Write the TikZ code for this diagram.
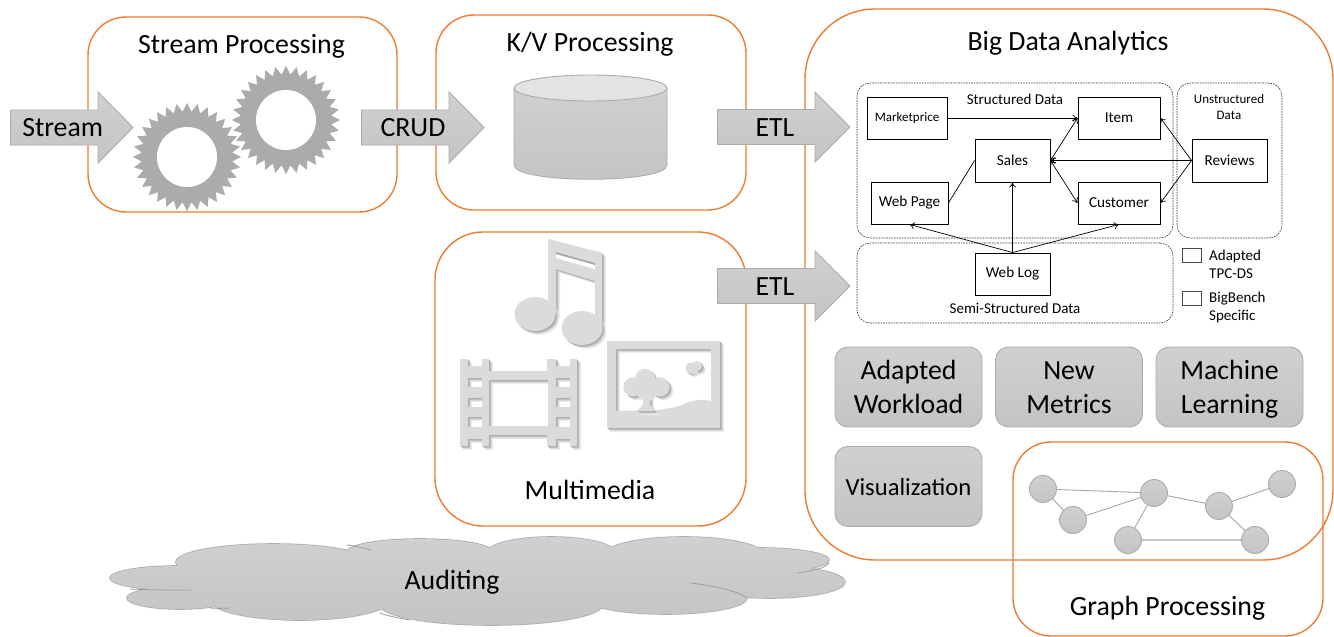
\documentclass[tikz,border=0pt]{standalone}
\usepackage{fontspec}
\setmainfont{Carlito}
\usetikzlibrary{arrows.meta}
\definecolor{orangeline}{HTML}{ED7D31}
\definecolor{gearcol}{HTML}{ABABAB}
\definecolor{iconcol}{HTML}{DBDBDB}
\definecolor{shapeline}{HTML}{ABABAB}
\definecolor{shadetop}{HTML}{D0D0D0}
\definecolor{shadebot}{HTML}{C4C4C4}
\newcommand{\bigfont}{\fontsize{27.8}{34}\selectfont}
\newcommand{\smallfont}{\fontsize{15.2}{18}\selectfont}
\newcommand{\notefont}{\fontsize{15}{18}\selectfont}
% shadowed icon: draws the given path with a soft offset shadow
\newcommand{\softshadow}[1]{%
  \begin{scope}[shift={(4,4)}]\fill[black!6,even odd rule] #1;\end{scope}%
  \begin{scope}[shift={(3,3)}]\fill[black!14,even odd rule] #1;\end{scope}%
  \begin{scope}[shift={(2,2)}]\fill[black!24,even odd rule] #1;\end{scope}%
  \begin{scope}[shift={(1,1)}]\fill[black!34,even odd rule] #1;\end{scope}%
  \fill[iconcol,even odd rule] #1;}
\newcommand{\gearshape}[2]{%
  \begin{scope}[shift={(#1,#2)}]
    \fill[gearcol] (0:54)
      \foreach \t in {1,...,32} { -- ({(\t-0.5)*11.25}:45.5) -- ({\t*11.25}:54) } -- cycle;
    \fill[white] (0,0) circle[radius=30];
  \end{scope}}
\tikzset{
  x=1pt,y=-1pt,
  procbox/.style={draw=orangeline,line width=1.4pt,minimum width=#1,inner sep=0pt},
  title/.style={font=\bigfont,inner sep=0pt,anchor=base,text=black},
  bigarrow/.style={draw=shapeline,line width=0.9pt,top color=shadetop,bottom color=shadebot},
  button/.style={draw=shapeline,line width=0.9pt,top color=shadetop,bottom color=shadebot,
    rounded corners=13pt,minimum width=147pt,minimum height=80pt,inner sep=0pt,align=center,
    text depth=0pt,font=\bigfont},
  datagroup/.style={draw=black!80,line width=0.6pt,dash pattern=on 1.6pt off 1pt,rounded corners=13pt,inner sep=0pt},
  entity/.style={draw=black,line width=0.9pt,inner sep=0pt,font=\smallfont},
  legendbox/.style={draw=black!70,line width=0.8pt,minimum width=19pt,minimum height=14pt,inner sep=0pt},
  note/.style={font=\notefont,inner sep=0pt,align=center},
  link/.style={draw=black,line width=0.7pt},
  arrowend/.style={link,-{To[length=5pt,width=7pt]}},
  twoway/.style={link,{To[length=5pt,width=7pt]}-{To[length=5pt,width=7pt]}},
  gnode/.style={circle,draw=shapeline,line width=0.9pt,top color=shadetop,bottom color=shadebot,minimum size=27pt,inner sep=0pt},
  gedge/.style={draw=black!35,line width=0.9pt},
  cloudline/.style={draw=black!38,line width=0.8pt},
}
\begin{document}
\begin{tikzpicture}
\useasboundingbox (0,0) rectangle (1334,637);
\fill[white] (0,0) rectangle (1334,637);

% processing boxes
\node[procbox=309pt,minimum height=195pt,rounded corners=38pt] (stream) at (242.5,114.5) {};
\node[procbox=310pt,minimum height=195pt,rounded corners=38pt] (kv) at (591,112.5) {};
\node[procbox=311pt,minimum height=294pt,rounded corners=48pt] (media) at (590.5,379) {};
\node[procbox=528pt,minimum height=551pt,rounded corners=70pt] (bigdata) at (1069,284.5) {};
\node[procbox=310pt,minimum height=194pt,rounded corners=38pt] (graph) at (1168,539) {};

% titles
\node[title] (streamtitle) at (241.5,53) {Stream Processing};
\node[title] (kvtitle) at (590,51) {K/V Processing};
\node[title] (bigtitle) at (1068,50) {Big Data Analytics};
\node[title] (mediatitle) at (590,499) {Multimedia};
\node[title] (graphtitle) at (1167.5,615) {Graph Processing};

% gears
\gearshape{286}{120}
\gearshape{187}{157}

% cylinder
\draw[bigarrow] (514,88) -- (514,165) .. controls (514,184) and (667,184) .. (667,165) -- (667,88) -- cycle;
\draw[draw=shapeline,line width=0.9pt,fill=black!11] (590.5,88) ellipse[x radius=76.5,y radius=13];

% block arrows
\draw[bigarrow] (10.5,110) -- (98,110) -- (98,92) -- (133,127.5) -- (98,163) -- (98,145) -- (10.5,145) -- cycle;
\draw[bigarrow] (361.5,110) -- (449,110) -- (449,92) -- (484,127.5) -- (449,163) -- (449,145) -- (361.5,145) -- cycle;
\draw[bigarrow] (717.5,109.5) -- (815,109.5) -- (815,92) -- (850,127) -- (815,162) -- (815,144.5) -- (717.5,144.5) -- cycle;
\draw[bigarrow] (717.5,268.5) -- (815,268.5) -- (815,251) -- (850,286) -- (815,321) -- (815,303.5) -- (717.5,303.5) -- cycle;
\node[title] (lstream) at (62.7,136.5) {Stream};
\node[title] (lcrud) at (413,136.5) {CRUD};
\node[title] (letla) at (775,136.5) {ETL};
\node[title] (letlb) at (775,295.5) {ETL};

% multimedia icons
\softshadow{(548,239) -- (602,253) -- (602,328) -- (595,328) -- (595,281) -- (556,269) -- (556,314) -- (548,314) -- cycle
  (556,252) -- (595,263) -- (595,269) -- (556,258) -- cycle}
\softshadow{(535,314) ellipse[x radius=20.5,y radius=17]}
\softshadow{(582,328) ellipse[x radius=20.5,y radius=17]}
\fill[iconcol] (548,239) -- (602,253) -- (602,328) -- (595,328) -- (595,281) -- (556,269) -- (556,314) -- (548,314) -- (548,280) -- cycle;
\fill[white] (556,252) -- (595,263) -- (595,269) -- (556,258) -- cycle;
\fill[black!34] (556,252) -- (595,263) -- (595,265) -- (556,254) -- cycle;
\softshadow{(460,359) -- (468,359) -- (468,366) -- (482,366) -- (482,359) -- (489,359) -- (489,371) -- (547,371) -- (547,359) -- (556,359) -- (556,366) -- (570,366) -- (570,359) -- (577,359) -- (577,446) -- (570,446) -- (570,439) -- (556,439) -- (556,446) -- (547,446) -- (547,435) -- (489,435) -- (489,446) -- (482,446) -- (482,439) -- (468,439) -- (468,446) -- (460,446) -- cycle
  (489,380) rectangle (548,426)
  (468,378) rectangle (482,387) (468,398) rectangle (482,407) (468,417) rectangle (482,427)
  (556,378) rectangle (570,387) (556,398) rectangle (570,407) (556,417) rectangle (570,427)}
\softshadow{(607,341) -- (720,341) -- (720,428) -- (607,428) -- cycle
  (616,349) -- (711,349) -- (711,401) .. controls (705,400) and (700,399) .. (693,401) .. controls (686,402) and (682,406) .. (676,407) .. controls (670,408) and (662,410) .. (653,410) -- (616,411) -- cycle}
\softshadow{(645,379) circle[radius=10]}
\softshadow{(633,387) circle[radius=9.5]}
\softshadow{(660,387) circle[radius=9.5]}
\softshadow{(691,368) circle[radius=5.5]}
\softshadow{(697,366) circle[radius=5]}
\softshadow{(643,395) -- (650,395) -- (650,405) -- (655,411) -- (637,411) -- (643,405) -- cycle}
\fill[iconcol] (645,379) circle[radius=10] (633,387) circle[radius=9.5] (660,387) circle[radius=9.5] (647,390) circle[radius=11] (691,368) circle[radius=5.5] (697,366) circle[radius=5] (694,370) circle[radius=4.5];
\fill[iconcol] (643,395) -- (650,395) -- (650,405) -- (655,411) -- (637,411) -- (643,405) -- cycle;

% data model groups
\node[datagroup,minimum width=316pt,minimum height=155pt] (structured) at (1015,160.5) {};
\node[datagroup,minimum width=105pt,minimum height=155pt] (unstructured) at (1229.5,160.5) {};
\node[datagroup,minimum width=316pt,minimum height=80pt] (semi) at (1015,283) {};
\node[note] (lstructured) at (1015,99) {Structured Data};
\node[note,font=\fontsize{13}{16}\selectfont] (lunstructured) at (1229,107) {Unstructured\\Data};
\node[note] (lsemi) at (1015,308) {Semi-Structured Data};

% entities
\node[entity,minimum width=80pt,minimum height=42pt,font=\fontsize{13}{16}\selectfont] (marketprice) at (907,118) {Marketprice};
\node[entity,minimum width=82pt,minimum height=42pt] (item) at (1119,118) {Item};
\node[entity,minimum width=75pt,minimum height=43pt] (sales) at (1012.5,160.5) {Sales};
\node[entity,minimum width=77pt,minimum height=42pt] (webpage) at (909.5,203) {Web Page};
\node[entity,minimum width=82pt,minimum height=42pt] (customer) at (1119,203) {Customer};
\node[entity,minimum width=75pt,minimum height=43pt] (reviews) at (1229.5,160.5) {Reviews};
\node[entity,minimum width=75pt,minimum height=42pt] (weblog) at (1012.5,274) {Web Log};

% entity links
\draw[arrowend] (marketprice.east) -- (item.west);
\draw[twoway] (sales.east) -- (item.west);
\draw[twoway] (sales.east) -- (customer.west);
\draw[arrowend] (reviews.west) -- (sales.east);
\draw[arrowend] (reviews.west) -- (item.east);
\draw[arrowend] (reviews.west) -- (customer.east);
\draw[link] (webpage.east) -- (sales.west);
\draw[arrowend] (weblog.north) -- (webpage.south);
\draw[arrowend] (weblog.north) -- (sales.south);
\draw[arrowend] (weblog.north) -- (customer.south);

% legend
\node[legendbox] (legenda) at (1191.5,255) {};
\node[legendbox] (legendb) at (1191.5,298) {};
\node[note,anchor=west,align=left] (llegenda) at (1209,264) {Adapted\\TPC-DS};
\node[note,anchor=west,align=left] (llegendb) at (1209,307.5) {BigBench\\Specific};

% workload buttons
\node[button] (adapted) at (908.5,387) {Adapted\\Workload};
\node[button] (metrics) at (1069,387) {\vphantom{d}New\\Metrics};
\node[button] (learning) at (1229.5,387) {Machine\\Learning};
\node[button,font=\fontsize{24.6}{30}\selectfont] (visual) at (908.5,486.5) {Visualization};

% graph
\node[gnode] (ga) at (1043,489) {};
\node[gnode] (gb) at (1073,520) {};
\node[gnode] (gc) at (1154,493) {};
\node[gnode] (gd) at (1128,540) {};
\node[gnode] (ge) at (1219,506) {};
\node[gnode] (gf) at (1282,484) {};
\node[gnode] (gg) at (1255,540) {};
\draw[gedge] (ga) -- (gb);
\draw[gedge] (ga) -- (gc);
\draw[gedge] (gb) -- (gc);
\draw[gedge] (gc) -- (gd);
\draw[gedge] (gc) -- (ge);
\draw[gedge] (ge) -- (gf);
\draw[gedge] (ge) -- (gg);
\draw[gedge,line width=1.3pt,draw=black!22] (gd) -- (gg);

% auditing cloud
\foreach \cx/\cy/\rx/\ry in {178/578/68/12,180/598/53/11,273/562/97/18,420/552/73/13,551/552/63/15,684/555/80/18,760/560/69/12,770/582/75/16,666/598/81/16,491/605/111/20,300/600/90/20}
  \draw[draw=black!32,line width=1.6pt] (\cx,\cy) ellipse[x radius=\rx,y radius=\ry];
\shade[top color=shadetop,bottom color=shadebot]
  (178,578) ellipse[x radius=68,y radius=12]
  (180,598) ellipse[x radius=53,y radius=11]
  (273,562) ellipse[x radius=97,y radius=18]
  (420,552) ellipse[x radius=73,y radius=13]
  (551,552) ellipse[x radius=63,y radius=15]
  (684,555) ellipse[x radius=80,y radius=18]
  (760,560) ellipse[x radius=69,y radius=12]
  (770,582) ellipse[x radius=75,y radius=16]
  (666,598) ellipse[x radius=81,y radius=16]
  (491,605) ellipse[x radius=111,y radius=20]
  (300,600) ellipse[x radius=90,y radius=20]
  (470,580) ellipse[x radius=310,y radius=30];
\draw[cloudline] (347,545) .. controls (355,546) and (364,548) .. (371,550);
\draw[cloudline] (691,583) .. controls (715,586) and (738,591) .. (747,598);
\draw[cloudline] (797,573) .. controls (812,571) and (826,568) .. (829,563);
\draw[cloudline] (130,589) .. controls (150,590) and (172,590) .. (191,590);
\draw[cloudline] (210,608) .. controls (216,608.5) and (224,608.5) .. (230,608);
\draw[cloudline] (380,613) .. controls (388,616) and (398,618) .. (410,620);
\node[title] (audit) at (452,589) {Auditing};
\end{tikzpicture}
\end{document}
